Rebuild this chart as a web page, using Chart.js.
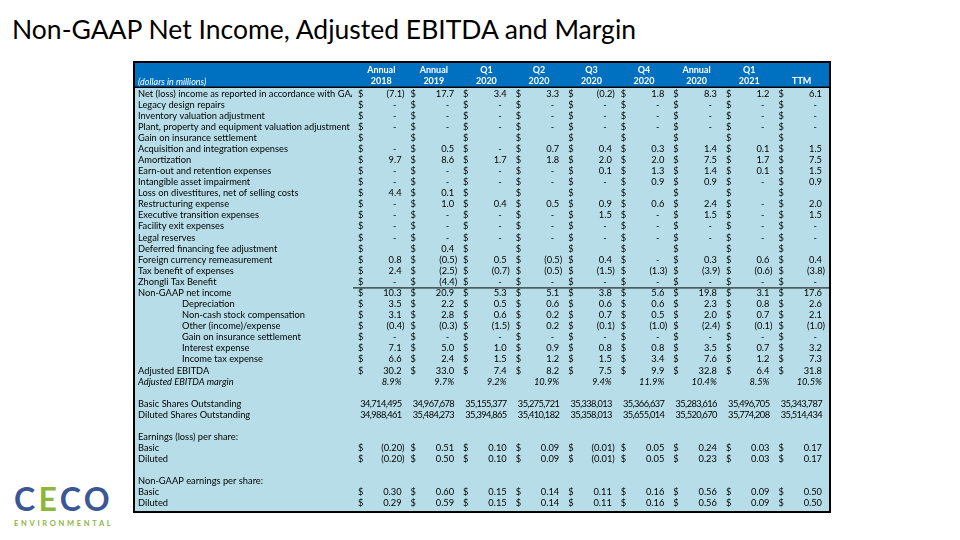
<!DOCTYPE html>
<html>
<head>
<meta charset="utf-8">
<script src="https://cdn.jsdelivr.net/npm/chart.js@4.4.0/dist/chart.umd.min.js"></script>
<style>
  body { margin: 0; width: 960px; height: 540px; background: #fff; position: relative; overflow: hidden; }
  #title { position: absolute; left: 12px; top: 14px; font: 26.5px Lato, sans-serif; color: #000; white-space: nowrap; line-height: 30px; }
  #wrap { position: absolute; left: 133px; top: 61px; width: 698px; height: 452px; }
  #logo { position: absolute; left: 14px; top: 483px; font-family: Lato, sans-serif; }
  #logo .big { font-weight: bold; font-size: 32px; line-height: 32px; letter-spacing: 3.3px; color: #3b5795; }
  #logo .big span { color: #8cb63c; }
  #logo .small { font-weight: bold; font-size: 7.5px; letter-spacing: 2.7px; color: #8cb63c; margin-top: 4px; }
</style>
</head>
<body>
<div id="title">Non-GAAP Net Income, Adjusted EBITDA and Margin</div>
<div id="wrap"><canvas id="table" width="698" height="452"></canvas></div>
<div id="logo"><div class="big">C<span>E</span>CO</div><div class="small">ENVIRONMENTAL</div></div>
<script>
'use strict';

// column headers
var periods = [['Annual', '2018'], ['Annual', '2019'], ['Q1', '2020'], ['Q2', '2020'], ['Q3', '2020'],
  ['Q4', '2020'], ['Annual', '2020'], ['Q1', '2021'], ['', 'TTM']];

// values per row (millions, 0 = dash, null = empty)
var netIncomeGAAP = [-7.1, 17.7, 3.4, 3.3, -0.2, 1.8, 8.3, 1.2, 6.1];
var legacyRepairs = [0, 0, 0, 0, 0, 0, 0, 0, 0];
var inventoryAdj = [0, 0, 0, 0, 0, 0, 0, 0, 0];
var ppeAdj = [0, 0, 0, 0, 0, 0, 0, 0, 0];
var insuranceGain = [null, null, null, null, null, null, null, null, null];
var acquisition = [0, 0.5, 0, 0.7, 0.4, 0.3, 1.4, 0.1, 1.5];
var amortization = [9.7, 8.6, 1.7, 1.8, 2.0, 2.0, 7.5, 1.7, 7.5];
var earnOut = [0, 0, 0, 0, 0.1, 1.3, 1.4, 0.1, 1.5];
var impairment = [0, 0, 0, 0, 0, 0.9, 0.9, 0, 0.9];
var divestitures = [4.4, 0.1, null, null, null, null, null, null, null];
var restructuring = [0, 1.0, 0.4, 0.5, 0.9, 0.6, 2.4, 0, 2.0];
var execTransition = [0, 0, 0, 0, 1.5, 0, 1.5, 0, 1.5];
var facilityExit = [0, 0, 0, 0, 0, 0, 0, 0, 0];
var legalReserves = [0, 0, 0, 0, 0, 0, 0, 0, 0];
var deferredFinancing = [null, 0.4, null, null, null, null, null, null, null];
var fxRemeasurement = [0.8, -0.5, 0.5, -0.5, 0.4, 0, 0.3, 0.6, 0.4];
var taxBenefit = [2.4, -2.5, -0.7, -0.5, -1.5, -1.3, -3.9, -0.6, -3.8];
var zhongliTax = [0, -4.4, 0, 0, 0, 0, 0, 0, 0];
var nonGaapNetIncome = [10.3, 20.9, 5.3, 5.1, 3.8, 5.6, 19.8, 3.1, 17.6];
var depreciation = [3.5, 2.2, 0.5, 0.6, 0.6, 0.6, 2.3, 0.8, 2.6];
var stockComp = [3.1, 2.8, 0.6, 0.2, 0.7, 0.5, 2.0, 0.7, 2.1];
var otherExpense = [-0.4, -0.3, -1.5, 0.2, -0.1, -1.0, -2.4, -0.1, -1.0];
var insuranceGain2 = [0, 0, 0, 0, 0, 0, 0, 0, 0];
var interestExpense = [7.1, 5.0, 1.0, 0.9, 0.8, 0.8, 3.5, 0.7, 3.2];
var incomeTax = [6.6, 2.4, 1.5, 1.2, 1.5, 3.4, 7.6, 1.2, 7.3];
var adjustedEbitda = [30.2, 33.0, 7.4, 8.2, 7.5, 9.9, 32.8, 6.4, 31.8];
var ebitdaMargin = [8.9, 9.7, 9.2, 10.9, 9.4, 11.9, 10.4, 8.5, 10.5];
var basicShares = [34714495, 34967678, 35155377, 35275721, 35338013, 35366637, 35283616, 35496705, 35343787];
var dilutedShares = [34988461, 35484273, 35394865, 35410182, 35358013, 35655014, 35520670, 35774208, 35514434];
var epsBasic = [-0.20, 0.51, 0.10, 0.09, -0.01, 0.05, 0.24, 0.03, 0.17];
var epsDiluted = [-0.20, 0.50, 0.10, 0.09, -0.01, 0.05, 0.23, 0.03, 0.17];
var nonGaapEpsBasic = [0.30, 0.60, 0.15, 0.14, 0.11, 0.16, 0.56, 0.09, 0.50];
var nonGaapEpsDiluted = [0.29, 0.59, 0.15, 0.14, 0.11, 0.16, 0.56, 0.09, 0.50];

// rows of the table: label, values, kind
var rows = [
  ['Net (loss) income as reported in accordance with GAAP', netIncomeGAAP, 'm'],
  ['Legacy design repairs', legacyRepairs, 'm'],
  ['Inventory valuation adjustment', inventoryAdj, 'm'],
  ['Plant, property and equipment valuation adjustment', ppeAdj, 'm'],
  ['Gain on insurance settlement', insuranceGain, 'm'],
  ['Acquisition and integration expenses', acquisition, 'm'],
  ['Amortization', amortization, 'm'],
  ['Earn-out and retention expenses', earnOut, 'm'],
  ['Intangible asset impairment', impairment, 'm'],
  ['Loss on divestitures, net of selling costs', divestitures, 'm'],
  ['Restructuring expense', restructuring, 'm'],
  ['Executive transition expenses', execTransition, 'm'],
  ['Facility exit expenses', facilityExit, 'm'],
  ['Legal reserves', legalReserves, 'm'],
  ['Deferred financing fee adjustment', deferredFinancing, 'm'],
  ['Foreign currency remeasurement', fxRemeasurement, 'm'],
  ['Tax benefit of expenses', taxBenefit, 'm'],
  ['Zhongli Tax Benefit', zhongliTax, 'm'],
  ['Non-GAAP net income', nonGaapNetIncome, 'm'],
  ['Depreciation', depreciation, 'm'],
  ['Non-cash stock compensation', stockComp, 'm'],
  ['Other (income)/expense', otherExpense, 'm'],
  ['Gain on insurance settlement', insuranceGain2, 'm'],
  ['Interest expense', interestExpense, 'm'],
  ['Income tax expense', incomeTax, 'm'],
  ['Adjusted EBITDA', adjustedEbitda, 'm'],
  ['Adjusted EBITDA margin', ebitdaMargin, 'pct'],
  ['', null, ''],
  ['Basic Shares Outstanding', basicShares, 'shares'],
  ['Diluted Shares Outstanding', dilutedShares, 'shares'],
  ['', null, ''],
  ['Earnings (loss) per share:', null, ''],
  ['Basic', epsBasic, 'eps'],
  ['Diluted', epsDiluted, 'eps'],
  ['', null, ''],
  ['Non-GAAP earnings per share:', null, ''],
  ['Basic', nonGaapEpsBasic, 'eps'],
  ['Diluted', nonGaapEpsDiluted, 'eps']
];
var rowLabels = rows.map(function (r) { return r[0]; });

// indented sub rows and line above the non-GAAP total
var indentFirst = 19;
var indentLast = 24;
var totalRow = 18;

var bodyFont = '9.3px Lato';

function formatValue(v, kind) {
  if (v === null) return '';
  if (kind === 'shares') return v.toLocaleString('en-US');
  if (kind === 'pct') return v.toFixed(1) + '%';
  if (v === 0) return '-';
  var s = Math.abs(v).toFixed(kind === 'eps' ? 2 : 1);
  return v < 0 ? '(' + s + ')' : s;
}

var tablePlugin = {
  id: 'tableCells',
  beforeDraw: function (chart) {
    var ctx = chart.ctx;
    var area = chart.chartArea;
    ctx.save();
    ctx.fillStyle = '#0070c0';
    ctx.fillRect(0, 0, chart.width, area.top);
    ctx.fillStyle = '#b7dee8';
    ctx.fillRect(0, area.top, chart.width, chart.height - area.top);
    ctx.fillStyle = '#000';
    ctx.fillRect(0, area.top - 1.5, chart.width, 1.5);
    ctx.restore();
  },
  afterDraw: function (chart) {
    var ctx = chart.ctx;
    var area = chart.chartArea;
    var xs = chart.scales.x;
    var ys = chart.scales.y;
    var half = (xs.getPixelForValue(1) - xs.getPixelForValue(0)) / 2;
    ctx.save();
    ctx.textBaseline = 'middle';

    // header note
    ctx.fillStyle = '#fff';
    ctx.font = 'italic 9px Lato';
    ctx.textAlign = 'left';
    ctx.fillText('(dollars in millions)', 5, 21);

    ctx.fillStyle = '#000';
    rows.forEach(function (row, r) {
      var py = ys.getPixelForValue(r);
      var kind = row[2];
      var italic = kind === 'pct' ? 'italic ' : '';
      ctx.font = italic + bodyFont;
      ctx.letterSpacing = '0px';

      ctx.save();
      ctx.beginPath();
      ctx.rect(0, py - 6, area.left - 3, 12);
      ctx.clip();
      ctx.textAlign = 'left';
      ctx.fillText(row[0], (r >= indentFirst && r <= indentLast) ? 49 : 5, py);
      ctx.restore();

      if (!row[1]) return;
      if (kind === 'shares') ctx.letterSpacing = '-0.6px';
      row[1].forEach(function (v, c) {
        var cx = xs.getPixelForValue(c);
        if (kind === 'm' || kind === 'eps') {
          ctx.textAlign = 'left';
          ctx.fillText('$', cx - half + 3, py);
        }
        var txt = formatValue(v, kind);
        ctx.textAlign = 'right';
        var pad = 6;
        if (txt === '-') pad = 11;
        else if (txt.charAt(0) === '(') pad = 3;
        ctx.fillText(txt, cx + half - pad, py);
      });
      ctx.letterSpacing = '0px';
    });

    // line above Non-GAAP net income
    var lineY = (ys.getPixelForValue(totalRow - 1) + ys.getPixelForValue(totalRow)) / 2;
    ctx.fillRect(area.left - 2, lineY, area.right - area.left + 4, 1);

    // frame
    ctx.strokeStyle = '#000';
    ctx.lineWidth = 2;
    ctx.strokeRect(1, 1, chart.width - 2, chart.height - 2);
    ctx.restore();
  }
};

var chart = new Chart(document.getElementById('table'), {
  type: 'bar',
  data: {
    labels: periods,
    datasets: [{ data: [] }]
  },
  options: {
    responsive: false,
    animation: false,
    devicePixelRatio: 1,
    layout: { padding: { left: 0, top: 0, right: 3, bottom: 4 } },
    plugins: { legend: { display: false }, tooltip: { enabled: false }, title: { display: false } },
    scales: {
      x: {
        type: 'category',
        position: 'top',
        offset: true,
        grid: { display: false, drawTicks: false },
        border: { display: false },
        ticks: { color: '#fff', padding: 1, maxRotation: 0, autoSkip: false,
          font: { family: 'Lato', size: 9, weight: 'bold', lineHeight: '11px' } },
        afterFit: function (s) { s.height = 27; }
      },
      y: {
        type: 'category',
        labels: rowLabels,
        offset: true,
        grid: { display: false, drawTicks: false },
        border: { display: false },
        ticks: { display: false },
        afterFit: function (s) { s.width = 222; }
      }
    }
  },
  plugins: [tablePlugin]
});
</script>
</body>
</html>
